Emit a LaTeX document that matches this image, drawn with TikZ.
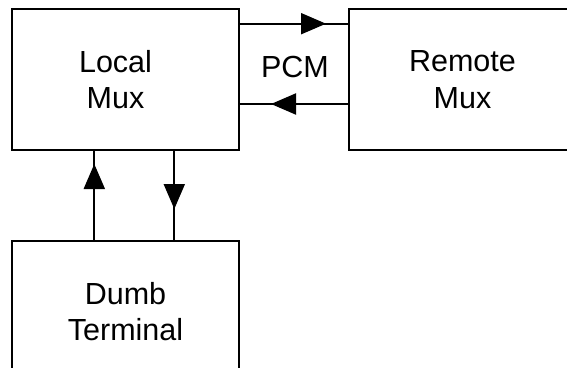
\documentclass[tikz,border=0pt]{standalone}
\usepackage{fontspec}
\setmainfont{Liberation Sans}
\usetikzlibrary{arrows.meta,decorations.markings}
\begin{document}
\begin{tikzpicture}[x=1pt,y=-1pt,line width=2pt,
  txt/.style={font=\fontsize{30.5}{36.6}\selectfont},
  box/.style={draw,line width=2pt,minimum width=227pt,minimum height=141pt,inner sep=0pt,align=center,txt},
  midarrow/.style={postaction={decorate},decoration={markings,
     mark=at position #1 with {\arrow{Triangle[length=25pt,width=21pt]}}}}]
\useasboundingbox (0,0) rectangle (567,367);
\clip (0,0) rectangle (567,367);
\node[box] (local) at (125.5,79.5) {\hspace*{-20pt}Local\\\hspace*{-20pt}Mux};
\node[box] (remote) at (462.5,79.5) {Remote\\Mux};
\node[box] (dumb) at (125.5,311.5) {Dumb\\Terminal};
\node[txt,anchor=base,inner sep=0pt] (pcm) at (295,77.3) {PCM};
\coordinate (ytop) at (0,23.7);
\coordinate (ybot) at (0,104);
\coordinate (xup) at (94.3,0);
\coordinate (xdown) at (174.3,0);
\draw[midarrow=86pt] (local.east |- ytop) -- (remote.west |- ytop);
\draw[midarrow=77pt] (remote.west |- ybot) -- (local.east |- ybot);
\draw[midarrow=76pt] (xup |- dumb.north) -- (xup |- local.south);
\draw[midarrow=58pt] (xdown |- local.south) -- (xdown |- dumb.north);
\end{tikzpicture}
\end{document}
